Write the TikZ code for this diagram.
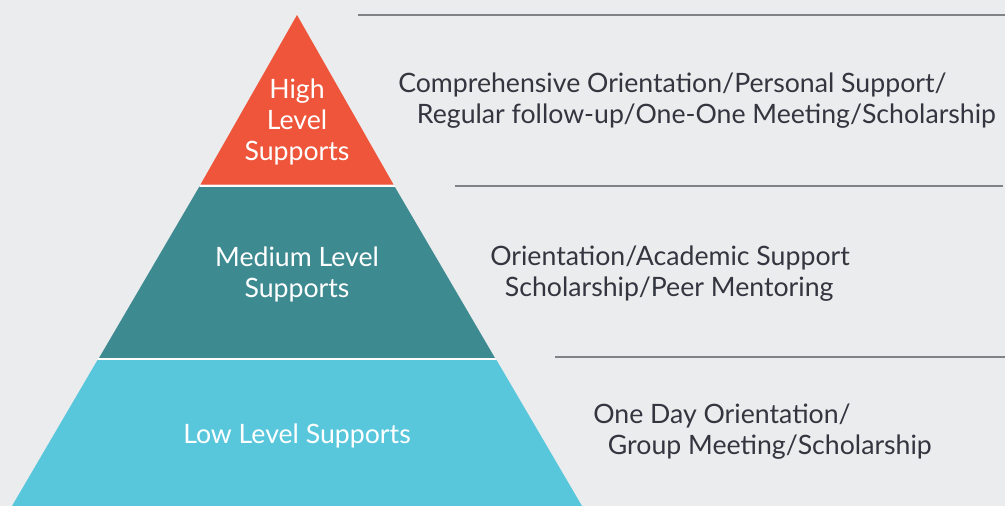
\documentclass[tikz,border=0pt]{standalone}
\usepackage{fontspec}
\setmainfont{Lato}
\definecolor{bg}{HTML}{EBECEE}
\definecolor{redl}{HTML}{EE553A}
\definecolor{tealm}{HTML}{3E8A91}
\definecolor{cyanl}{HTML}{59C7DB}
\definecolor{txt}{HTML}{33353F}
\definecolor{rule}{HTML}{808285}
\begin{document}
\begin{tikzpicture}[x=0.75pt,y=-0.75pt,
  lbl/.style={text=white,font=\fontsize{20}{23.25}\selectfont,align=center,inner sep=0pt},
  desc/.style={text=txt,font=\fontsize{20}{23.25}\selectfont,align=left,anchor=west,inner sep=0pt},
  rl/.style={draw=rule,line width=1.1pt},
  gap/.style={draw=white,line width=1.5pt}]
\fill[bg] (0,0) rectangle (1005,506);
\useasboundingbox (0,0) rectangle (1005,506);
% pyramid layers
\fill[redl] (297,15) -- (393.5,184.5) -- (200.5,184.5) -- cycle;
\fill[tealm] (199.4,186.5) -- (394.6,186.5) -- (495,358) -- (99,358) -- cycle;
\fill[cyanl] (97.5,360) -- (496.5,360) -- (582,506) -- (12,506) -- cycle;
\coordinate (g1a) at (199.5,185.5); \coordinate (g1b) at (394.5,185.5);
\coordinate (g2a) at (98,359); \coordinate (g2b) at (496,359);
\draw[gap] (g1a) -- (g1b);
\draw[gap] (g2a) -- (g2b);
% rules
\coordinate (r1a) at (358,15); \coordinate (r1b) at (1005,15);
\coordinate (r2a) at (455,186); \coordinate (r2b) at (1003,186);
\coordinate (r3a) at (555,357); \coordinate (r3b) at (1005,357);
\draw[rl] (r1a) -- (r1b);
\draw[rl] (r2a) -- (r2b);
\draw[rl] (r3a) -- (r3b);
% labels
\node[lbl] (high) at (297,122) {High\\Level\\Supports};
\node[lbl] (med) at (297,274) {Medium Level\\Supports};
\node[lbl] (low) at (297,436) {Low Level Supports};
% descriptions
\node[desc] (dh) at (398,101) {Comprehensive Orientation/Personal Support/\\\hspace*{14pt}Regular follow-up/One-One Meeting/Scholarship};
\node[desc] (dm) at (490,274) {Orientation/Academic Support\\\hspace*{11pt}Scholarship/Peer Mentoring};
\node[desc] (dl) at (593,432) {One Day Orientation/\\\hspace*{11pt}Group Meeting/Scholarship};
\end{tikzpicture}
\end{document}
